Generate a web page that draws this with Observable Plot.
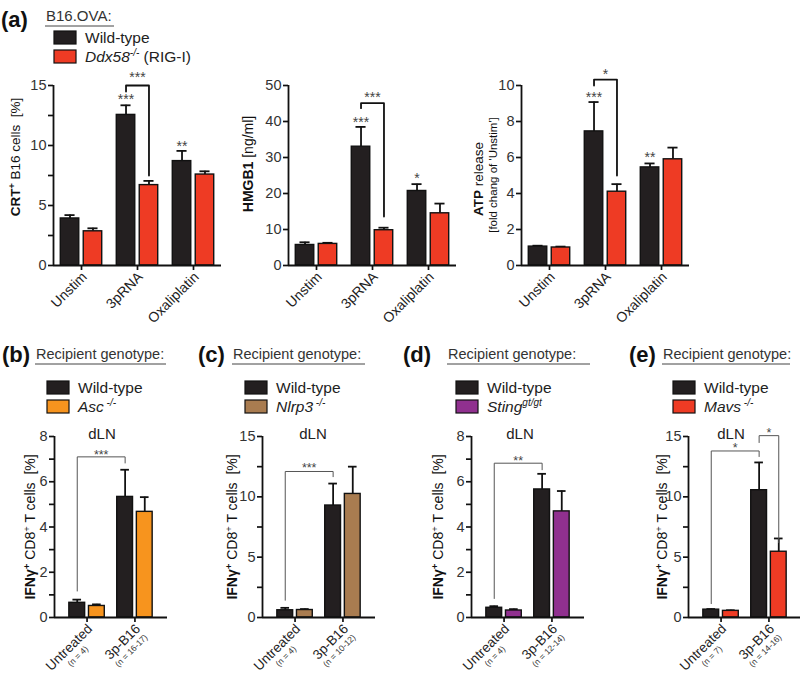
<!DOCTYPE html>
<html>
<head>
<meta charset="utf-8">
<script src="https://cdn.jsdelivr.net/npm/d3@7"></script>
<script src="https://cdn.jsdelivr.net/npm/@observablehq/plot@0.6"></script>
<style>
html,body{margin:0;padding:0;background:#fff;}
#fig{position:relative;width:800px;height:677px;overflow:hidden;background:#fff;font-family:"Liberation Sans",Arial,Helvetica,sans-serif;color:#222;}
#fig > svg{position:absolute;overflow:visible;background:transparent;}
#fig svg g[aria-label="y-axis tick"] path, #fig svg g[aria-label="x-axis tick"] path{stroke-width:1.7px;stroke:#111;}
#fig svg g[aria-label="y-axis tick label"]{font-size:14.5px;fill:#333;}
</style>
</head>
<body>
<div id="fig"></div>
<script>
// ---------------- DATA ----------------
const FONT = '"Liberation Sans", Arial, Helvetica, sans-serif';
const wtColor = "#231f20";
const ddx58Color = "#ee3b24";
const ascColor = "#f7941e";
const nlrp3Color = "#a97c50";
const stingColor = "#90308f";
const mavsColor = "#ee3b24";

// (a) in vitro stimulation
const stimCategories = ["Unstim", "3pRNA", "Oxaliplatin"];
const crtWT = [3.92, 12.55, 8.7];
const crtWTErr = [0.28, 0.8, 0.85];
const crtKO = [2.85, 6.7, 7.58];
const crtKOErr = [0.25, 0.35, 0.27];
const crtTicks = [0, 5, 10, 15];
const crtMinorTicks = [2.5, 7.5, 12.5];
const crtStars = [{i: 1, g: "WT", y: 14.05, label: "***"}, {i: 2, g: "WT", y: 10.2, label: "**"}];
const crtBrackets = [{from: [1, "WT"], to: [1, "KO"], top: 15.0, ends: [14.5, 7.5], labelY: 15.9, label: "***"}];

const hmgbWT = [5.7, 33.0, 20.7];
const hmgbWTErr = [0.75, 5.5, 1.9];
const hmgbKO = [6.0, 9.8, 14.5];
const hmgbKOErr = [0.3, 0.7, 2.7];
const hmgbTicks = [0, 10, 20, 30, 40, 50];
const hmgbStars = [{i: 1, g: "WT", y: 40.5, label: "***"}, {i: 2, g: "WT", y: 25.0, label: "*"}];
const hmgbBrackets = [{from: [1, "WT"], to: [1, "KO"], top: 45.1, ends: [43.7, 13.6], labelY: 47.4, label: "***"}];

const atpWT = [1.05, 7.45, 5.45];
const atpWTErr = [0.05, 1.63, 0.22];
const atpKO = [1.0, 4.1, 5.9];
const atpKOErr = [0.05, 0.42, 0.65];
const atpTicks = [0, 2, 4, 6, 8, 10];
const atpStars = [{i: 1, g: "WT", y: 9.5, label: "***"}, {i: 2, g: "WT", y: 6.15, label: "**"}];
const atpBrackets = [{from: [1, "WT"], to: [1, "KO"], top: 10.33, ends: [10.0, 5.0], labelY: 10.75, label: "*"}];

// (b)-(e) in vivo, dLN
const treatCategories = ["Untreated", "3p-B16"];
const ascN = ["(n = 4)", "(n = 16-17)"];
const ascWT = [0.65, 5.33];
const ascWTErr = [0.14, 1.2];
const ascKO = [0.51, 4.67];
const ascKOErr = [0.07, 0.65];
const ascBrackets = [{from: [0, "WT"], to: [1, "WT"], top: 7.1, ends: [1.17, 6.83], labelY: 7.33, label: "***"}];

const nlrp3N = ["(n = 4)", "(n = 10-12)"];
const nlrp3WT = [0.6, 9.28];
const nlrp3WTErr = [0.2, 1.82];
const nlrp3KO = [0.62, 10.24];
const nlrp3KOErr = [0.08, 2.26];
const nlrp3Brackets = [{from: [0, "WT"], to: [1, "WT"], top: 12.1, ends: [1.43, 11.67], labelY: 12.6, label: "***"}];

const stingN = ["(n = 4)", "(n = 12-14)"];
const stingWT = [0.43, 5.66];
const stingWTErr = [0.07, 0.69];
const stingKO = [0.31, 4.69];
const stingKOErr = [0.06, 0.9];
const stingBrackets = [{from: [0, "WT"], to: [1, "WT"], top: 6.82, ends: [0.84, 6.53], labelY: 7.07, label: "**"}];

const mavsN = ["(n = 7)", "(n = 14-16)"];
const mavsWT = [0.65, 10.55];
const mavsWTErr = [0.05, 2.3];
const mavsKO = [0.55, 5.45];
const mavsKOErr = [0.05, 1.1];
const mavsBrackets = [
  {from: [0, "WT"], to: [1, "WT"], top: 13.8, ends: [1.15, 13.34], labelY: 14.3, label: "*"},
  {from: [1, "WT"], to: [1, "KO"], top: 15.07, ends: [14.5, 6.2], labelY: 15.55, label: "*"}
];
const ticks8 = [0, 2, 4, 6, 8];
const minor8 = [1, 3, 5, 7];
const ticks15 = [0, 5, 10, 15];
const minor15 = [2.5, 7.5, 12.5];

// ---------------- LAYOUT ----------------
const ML = 45, MR = 12, MT = 35, MB = 85;
const fig = document.getElementById("fig");
const ctx = document.createElement("canvas").getContext("2d");
function textWidth(s, px) { ctx.font = `${px}px "Liberation Sans"`; return ctx.measureText(s).width; }

function barChart(o) {
  const off = 0.205, hw = 0.165, cap = 0.09;
  const cx = (i, g) => i + (g === "WT" ? -off : off);
  const rows = o.cats.flatMap((c, i) => [
    {i, g: "WT", v: o.wt[i], e: o.wtErr[i]},
    {i, g: "KO", v: o.ko[i], e: o.koErr[i]}
  ]);
  const brPts = o.brackets.flatMap((b, k) => {
    const xa = cx(...b.from), xb = cx(...b.to);
    return [{k, x: xa, y: b.ends[0]}, {k, x: xa, y: b.top}, {k, x: xb, y: b.top}, {k, x: xb, y: b.ends[1]}];
  });
  const brLabels = o.brackets.map(b => ({x: (cx(...b.from) + cx(...b.to)) / 2, y: b.labelY, label: b.label}));
  const starRows = (o.stars || []).map(s => ({x: cx(s.i, s.g), y: s.y, label: s.label}));
  const allTicks = [...o.yTicks, ...(o.yMinor || [])].sort((a, b) => a - b);
  const k = Math.SQRT1_2;
  const labelMarks = [];
  if (o.nLabels) {
    o.cats.forEach((c, i) => {
      labelMarks.push(Plot.text([{i, t: c}], {x: "i", y: () => 0, text: "t", rotate: -45, textAnchor: "end",
        fontSize: 13.5, fill: "#222", dx: 3, dy: 9}));
      const wMain = textWidth(c, 13.5), wN = textWidth(o.nLabels[i], 8.5);
      const a = -(wMain - wN) / 2, b = 12.5;
      labelMarks.push(Plot.text([{i, t: o.nLabels[i]}], {x: "i", y: () => 0, text: "t", rotate: -45, textAnchor: "end",
        fontSize: 8.5, fill: "#333", dx: 3 + k * (a + b), dy: 9 + k * (b - a)}));
    });
  } else {
    labelMarks.push(Plot.text(o.cats.map((c, i) => ({i, t: c})), {x: "i", y: () => 0, text: "t", rotate: -45,
      textAnchor: "end", fontSize: 14, fill: "#222", dx: 3, dy: 9}));
  }
  const svg = Plot.plot({
    width: ML + o.w + MR, height: MT + o.h + MB,
    marginLeft: ML, marginRight: MR, marginTop: MT, marginBottom: MB,
    style: {background: "transparent", fontFamily: FONT, fontSize: "14px", color: "#222", overflow: "visible"},
    x: {domain: o.xDomain, ticks: o.cats.map((_, i) => i), tickFormat: () => "", tickSize: 5, label: null},
    y: {domain: o.yDomain, ticks: allTicks, tickFormat: d => o.yTicks.includes(d) ? String(d) : "", tickSize: 5, tickPadding: 2, label: null},
    color: {type: "identity"},
    marks: [
      Plot.ruleX(rows, {x: d => cx(d.i, d.g), y1: "v", y2: d => d.v + d.e, stroke: "#111", strokeWidth: 1.8}),
      Plot.ruleY(rows, {y: d => d.v + d.e, x1: d => cx(d.i, d.g) - cap, x2: d => cx(d.i, d.g) + cap, stroke: "#111", strokeWidth: 1.8}),
      Plot.rectY(rows, {x1: d => cx(d.i, d.g) - hw, x2: d => cx(d.i, d.g) + hw, y1: () => 0, y2: "v",
        fill: d => d.g === "WT" ? wtColor : o.koColor, stroke: "#111", strokeWidth: 1.4}),
      Plot.ruleX([o.xDomain[0]], {stroke: "#111", strokeWidth: 1.8}),
      Plot.ruleY([0], {stroke: "#111", strokeWidth: 1.8}),
      Plot.line(brPts, {x: "x", y: "y", z: "k", stroke: o.brStroke, strokeWidth: o.brWidth, curve: "linear"}),
      Plot.text(brLabels, {x: "x", y: "y", text: "label", fontSize: o.starSize, fill: "#444", dy: 3}),
      Plot.text(starRows, {x: "x", y: "y", text: "label", fontSize: o.starSize, fill: "#444", dy: 3}),
      ...labelMarks
    ]
  });
  svg.style.position = "absolute";
  svg.style.left = (o.left - ML) + "px";
  svg.style.top = (o.top - MT) + "px";
  fig.appendChild(svg);
}

const topCommon = {cats: stimCategories, koColor: ddx58Color, xDomain: [-0.5, 2.5], w: 168, h: 180, top: 85,
  brStroke: "#111", brWidth: 1.8, starSize: 14};
barChart({...topCommon, left: 53, wt: crtWT, wtErr: crtWTErr, ko: crtKO, koErr: crtKOErr,
  yDomain: [0, 15], yTicks: crtTicks, yMinor: crtMinorTicks, stars: crtStars, brackets: crtBrackets});
barChart({...topCommon, left: 288, wt: hmgbWT, wtErr: hmgbWTErr, ko: hmgbKO, koErr: hmgbKOErr,
  yDomain: [0, 50], yTicks: hmgbTicks, stars: hmgbStars, brackets: hmgbBrackets});
barChart({...topCommon, left: 521, wt: atpWT, wtErr: atpWTErr, ko: atpKO, koErr: atpKOErr,
  yDomain: [0, 10], yTicks: atpTicks, stars: atpStars, brackets: atpBrackets});

const botCommon = {cats: treatCategories, xDomain: [-0.68, 1.68], w: 113, h: 181, top: 436,
  brStroke: "#555", brWidth: 1, starSize: 12.5};
barChart({...botCommon, left: 54, koColor: ascColor, nLabels: ascN, wt: ascWT, wtErr: ascWTErr, ko: ascKO, koErr: ascKOErr,
  yDomain: [0, 8], yTicks: ticks8, yMinor: minor8, brackets: ascBrackets});
barChart({...botCommon, left: 262, koColor: nlrp3Color, nLabels: nlrp3N, wt: nlrp3WT, wtErr: nlrp3WTErr, ko: nlrp3KO, koErr: nlrp3KOErr,
  yDomain: [0, 15], yTicks: ticks15, yMinor: minor15, brackets: nlrp3Brackets});
barChart({...botCommon, left: 471, koColor: stingColor, nLabels: stingN, wt: stingWT, wtErr: stingWTErr, ko: stingKO, koErr: stingKOErr,
  yDomain: [0, 8], yTicks: ticks8, yMinor: minor8, brackets: stingBrackets});
barChart({...botCommon, left: 688, koColor: mavsColor, nLabels: mavsN, wt: mavsWT, wtErr: mavsWTErr, ko: mavsKO, koErr: mavsKOErr,
  yDomain: [0, 15], yTicks: ticks15, yMinor: minor15, brackets: mavsBrackets});

// ---------------- ANNOTATIONS ----------------
function swatch(x, y, color, label) {
  return `<rect x="${x}" y="${y}" width="22" height="13" fill="${color}" stroke="#111" stroke-width="1.2"/>` +
    `<text x="${x + 31}" y="${y + 12}" font-size="15.5" fill="#222">${label}</text>`;
}
function header(letter, lx, tx, ux2) {
  return `<text x="${lx}" y="362" font-size="22" font-weight="bold" fill="#111">${letter}</text>` +
    `<text x="${tx}" y="359" font-size="14.5" fill="#333">Recipient genotype:</text>` +
    `<line x1="${tx - 1}" x2="${ux2}" y1="364" y2="364" stroke="#444" stroke-width="1"/>`;
}
const ifnLabel = `<tspan font-weight="bold">IFN\u03b3</tspan><tspan font-weight="bold" font-size="9.5" dy="-5">+</tspan><tspan dy="5"> CD8</tspan><tspan font-size="9.5" dy="-5">+</tspan><tspan dy="5"> T cells\u00a0 [%]</tspan>`;
const ylab = (x, y, size, content) => `<text transform="translate(${x},${y}) rotate(-90)" text-anchor="middle" font-size="${size}" fill="#111">${content}</text>`;
const koLabel = (name, s) => `<tspan font-style="italic">${name}</tspan><tspan font-style="italic" font-size="10" dy="-6">\u00a0${s}</tspan><tspan dy="6"></tspan>`;
const dln = x => `<text x="${x}" y="439" text-anchor="middle" font-size="15" fill="#222">dLN</text>`;

const overlay = `
<svg xmlns="http://www.w3.org/2000/svg" width="800" height="677" style="left:0;top:0" font-family='${FONT}'>
  <text x="1" y="27" font-size="22" font-weight="bold" fill="#111">(a)</text>
  <text x="46" y="21" font-size="15" fill="#333">B16.OVA:</text>
  <line x1="45" x2="114" y1="26" y2="26" stroke="#444" stroke-width="1"/>
  ${swatch(54, 31, wtColor, "Wild-type")}
  ${swatch(54, 50, ddx58Color, `<tspan font-style="italic">Ddx58</tspan><tspan font-style="italic" font-size="10" dy="-6">-/-</tspan><tspan dy="6"> (RIG-I)</tspan>`)}
  ${ylab(20, 157, 13.5, `<tspan font-weight="bold">CRT</tspan><tspan font-weight="bold" font-size="9" dy="-5">+</tspan><tspan dy="5"> B16 cells\u00a0 [%]</tspan>`)}
  ${ylab(253, 164, 14, `<tspan font-weight="bold">HMGB1</tspan> [ng/ml]`)}
  ${ylab(483, 179, 13.5, `<tspan font-weight="bold">ATP</tspan> release`)}
  ${ylab(497, 175, 11.5, `[fold chang of 'Unstim']`)}

  ${header("(b)", 2, 36, 166)}
  ${swatch(47, 381, wtColor, "Wild-type")}
  ${swatch(47, 400, ascColor, koLabel("Asc", "-/-"))}
  ${ylab(35, 527, 14, ifnLabel)}
  ${dln(102)}

  ${header("(c)", 198, 233, 365)}
  ${swatch(245, 381, wtColor, "Wild-type")}
  ${swatch(245, 400, nlrp3Color, koLabel("Nlrp3", "-/-"))}
  ${ylab(237, 527, 14, ifnLabel)}
  ${dln(313)}

  ${header("(d)", 403, 448, 590)}
  ${swatch(456, 381, wtColor, "Wild-type")}
  ${swatch(456, 400, stingColor, `<tspan font-style="italic">Sting</tspan><tspan font-style="italic" font-size="10" dy="-6">gt/gt</tspan><tspan dy="6"></tspan>`)}
  ${ylab(443, 527, 14, ifnLabel)}
  ${dln(520)}

  ${header("(e)", 629, 663, 790)}
  ${swatch(673, 381, wtColor, "Wild-type")}
  ${swatch(673, 400, mavsColor, koLabel("Mavs", "-/-"))}
  ${ylab(667, 527, 14, ifnLabel)}
  ${dln(731)}
</svg>`;
fig.insertAdjacentHTML("beforeend", overlay);
</script>
</body>
</html>
